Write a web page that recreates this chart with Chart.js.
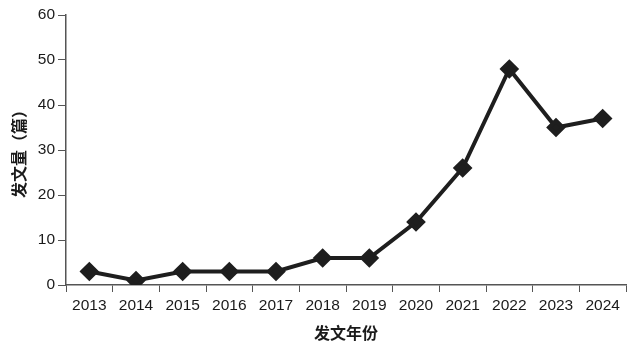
<!DOCTYPE html>
<html>
<head>
<meta charset="utf-8">
<script src="https://cdn.jsdelivr.net/npm/chart.js@4/dist/chart.umd.min.js"></script>
<style>
  html, body { margin: 0; padding: 0; background: #fff; }
  #wrap { width: 630px; height: 348px; }
</style>
</head>
<body>
<div id="wrap"><canvas id="chart"></canvas></div>
<script>
const years = ["2013", "2014", "2015", "2016", "2017", "2018", "2019", "2020", "2021", "2022", "2023", "2024"];
const counts = [3, 1, 3, 3, 3, 6, 6, 14, 26, 48, 35, 37];
const yTicks = [0, 10, 20, 30, 40, 50, 60];

const tickFont = { family: "'Liberation Sans', sans-serif", size: 15.5 };
const titleFont = { family: "'Noto Sans CJK SC', sans-serif", size: 16, weight: "bold" };

new Chart(document.getElementById("chart"), {
  type: "line",
  data: {
    labels: years,
    datasets: [{
      data: counts,
      borderColor: "#1e1e1e",
      backgroundColor: "#1e1e1e",
      borderWidth: 4,
      pointStyle: "rectRot",
      pointRadius: 7,
      pointHoverRadius: 7,
      tension: 0
    }]
  },
  options: {
    responsive: true,
    maintainAspectRatio: false,
    animation: false,
    layout: { autoPadding: false, padding: { top: 15, right: 4, left: 9, bottom: 5 } },
    plugins: { legend: { display: false }, tooltip: { enabled: false } },
    scales: {
      x: {
        offset: true,
        grid: {
          display: true,
          drawOnChartArea: false,
          offset: true,
          tickLength: 7,
          color: "#555"
        },
        border: { color: "#555", width: 1.5 },
        ticks: { color: "#1a1a1a", font: tickFont, padding: 4, maxRotation: 0 },
        title: { display: true, text: "发文年份", color: "#1a1a1a", font: titleFont, padding: { top: 4, bottom: 0 } },
        afterFit: function (axis) { axis.height = 58; }
      },
      y: {
        min: 0,
        max: 60,
        afterBuildTicks: function (axis) { axis.ticks = yTicks.map(v => ({ value: v })); },
        grid: {
          display: true,
          drawOnChartArea: false,
          tickLength: 8,
          color: "#555"
        },
        border: { color: "#555", width: 1.5 },
        ticks: { color: "#1a1a1a", font: tickFont, padding: 3 },
        title: { display: true, text: "发文量（篇）", color: "#1a1a1a", font: titleFont, padding: { top: 0, bottom: 4 } },
        afterFit: function (axis) { axis.width = 57; }
      }
    }
  }
});
</script>
</body>
</html>
